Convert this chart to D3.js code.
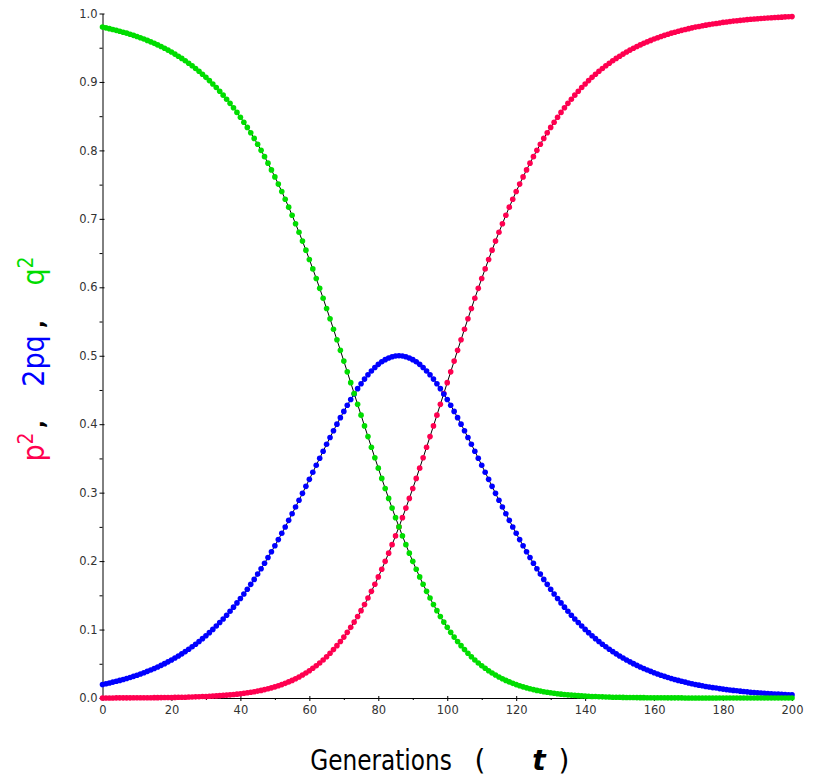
<!DOCTYPE html>
<html>
<head>
<meta charset="utf-8">
<script src="https://cdn.jsdelivr.net/npm/d3@7"></script>
<style>
  body { margin: 0; background: #fff; }
  svg { display: block; }
  .tick text { font-family: "DejaVu Sans", sans-serif; font-size: 11.5px; fill: #333; }
</style>
</head>
<body>
<svg id="drawing_region"></svg>
<script>
// generations 0..200
const generations = d3.range(0, 201);

// p^2 (red)
const p2Values = [
0.0001,0.0001,0.0001,0.0001,0.0002,0.0002,0.0002,0.0002,0.0002,0.0003,
0.0003,0.0003,0.0004,0.0004,0.0004,0.0005,0.0005,0.0006,0.0007,0.0007,
0.0008,0.0009,0.0010,0.0011,0.0012,0.0014,0.0015,0.0017,0.0019,0.0021,
0.0023,0.0025,0.0028,0.0031,0.0034,0.0038,0.0042,0.0046,0.0051,0.0056,
0.0062,0.0069,0.0076,0.0083,0.0092,0.0101,0.0111,0.0123,0.0135,0.0148,
0.0163,0.0178,0.0196,0.0214,0.0235,0.0257,0.0281,0.0307,0.0335,0.0365,
0.0398,0.0434,0.0472,0.0512,0.0556,0.0603,0.0654,0.0707,0.0765,0.0826,
0.0890,0.0959,0.1032,0.1109,0.1190,0.1276,0.1365,0.1460,0.1558,0.1661,
0.1769,0.1880,0.1996,0.2116,0.2240,0.2368,0.2500,0.2635,0.2774,0.2916,
0.3061,0.3208,0.3358,0.3510,0.3663,0.3819,0.3975,0.4132,0.4290,0.4449,
0.4607,0.4765,0.4922,0.5079,0.5234,0.5388,0.5540,0.5691,0.5839,0.5985,
0.6128,0.6269,0.6407,0.6543,0.6675,0.6804,0.6929,0.7052,0.7171,0.7286,
0.7399,0.7508,0.7613,0.7715,0.7814,0.7909,0.8001,0.8089,0.8175,0.8257,
0.8336,0.8412,0.8485,0.8555,0.8622,0.8687,0.8748,0.8807,0.8864,0.8918,
0.8970,0.9020,0.9067,0.9112,0.9156,0.9197,0.9236,0.9274,0.9310,0.9344,
0.9376,0.9407,0.9437,0.9465,0.9492,0.9517,0.9541,0.9564,0.9586,0.9607,
0.9627,0.9646,0.9664,0.9681,0.9697,0.9713,0.9727,0.9741,0.9754,0.9767,
0.9779,0.9790,0.9801,0.9811,0.9821,0.9830,0.9839,0.9847,0.9855,0.9862,
0.9870,0.9876,0.9883,0.9889,0.9894,0.9900,0.9905,0.9910,0.9915,0.9919,
0.9923,0.9927,0.9931,0.9935,0.9938,0.9941,0.9944,0.9947,0.9950,0.9952,
0.9955];

// 2pq (blue)
const twoPqValues = [
0.0198,0.0209,0.0220,0.0232,0.0244,0.0257,0.0271,0.0285,0.0300,0.0316,
0.0333,0.0351,0.0369,0.0389,0.0409,0.0431,0.0453,0.0477,0.0502,0.0528,
0.0555,0.0584,0.0614,0.0645,0.0678,0.0713,0.0749,0.0786,0.0826,0.0867,
0.0910,0.0955,0.1002,0.1051,0.1102,0.1155,0.1210,0.1267,0.1327,0.1389,
0.1453,0.1520,0.1589,0.1660,0.1733,0.1810,0.1888,0.1969,0.2052,0.2137,
0.2225,0.2314,0.2406,0.2499,0.2595,0.2691,0.2790,0.2890,0.2990,0.3092,
0.3194,0.3297,0.3400,0.3503,0.3605,0.3706,0.3806,0.3905,0.4001,0.4096,
0.4187,0.4276,0.4361,0.4442,0.4519,0.4592,0.4659,0.4722,0.4778,0.4829,
0.4874,0.4912,0.4943,0.4968,0.4986,0.4996,0.5000,0.4996,0.4986,0.4968,
0.4943,0.4912,0.4874,0.4829,0.4778,0.4722,0.4659,0.4592,0.4519,0.4442,
0.4361,0.4276,0.4187,0.4096,0.4001,0.3905,0.3806,0.3706,0.3605,0.3503,
0.3400,0.3297,0.3194,0.3092,0.2990,0.2890,0.2790,0.2691,0.2595,0.2499,
0.2406,0.2314,0.2225,0.2137,0.2052,0.1969,0.1888,0.1810,0.1733,0.1660,
0.1589,0.1520,0.1453,0.1389,0.1327,0.1267,0.1210,0.1155,0.1102,0.1051,
0.1002,0.0955,0.0910,0.0867,0.0826,0.0786,0.0749,0.0713,0.0678,0.0645,
0.0614,0.0584,0.0555,0.0528,0.0502,0.0477,0.0453,0.0431,0.0409,0.0389,
0.0369,0.0351,0.0333,0.0316,0.0300,0.0285,0.0271,0.0257,0.0244,0.0232,
0.0220,0.0209,0.0198,0.0188,0.0178,0.0169,0.0161,0.0152,0.0145,0.0137,
0.0130,0.0123,0.0117,0.0111,0.0105,0.0100,0.0095,0.0090,0.0085,0.0081,
0.0077,0.0073,0.0069,0.0065,0.0062,0.0059,0.0056,0.0053,0.0050,0.0048,
0.0045];

// q^2 (green)
const q2Values = [
0.9801,0.9790,0.9779,0.9767,0.9754,0.9741,0.9727,0.9713,0.9697,0.9681,
0.9664,0.9646,0.9627,0.9607,0.9586,0.9564,0.9541,0.9517,0.9492,0.9465,
0.9437,0.9407,0.9376,0.9344,0.9310,0.9274,0.9236,0.9197,0.9156,0.9112,
0.9067,0.9020,0.8970,0.8918,0.8864,0.8807,0.8748,0.8687,0.8622,0.8555,
0.8485,0.8412,0.8336,0.8257,0.8175,0.8089,0.8001,0.7909,0.7814,0.7715,
0.7613,0.7508,0.7399,0.7286,0.7171,0.7052,0.6929,0.6804,0.6675,0.6543,
0.6407,0.6269,0.6128,0.5985,0.5839,0.5691,0.5540,0.5388,0.5234,0.5079,
0.4922,0.4765,0.4607,0.4449,0.4290,0.4132,0.3975,0.3819,0.3663,0.3510,
0.3358,0.3208,0.3061,0.2916,0.2774,0.2635,0.2500,0.2368,0.2240,0.2116,
0.1996,0.1880,0.1769,0.1661,0.1558,0.1460,0.1365,0.1276,0.1190,0.1109,
0.1032,0.0959,0.0890,0.0826,0.0765,0.0707,0.0654,0.0603,0.0556,0.0512,
0.0472,0.0434,0.0398,0.0365,0.0335,0.0307,0.0281,0.0257,0.0235,0.0214,
0.0196,0.0178,0.0163,0.0148,0.0135,0.0123,0.0111,0.0101,0.0092,0.0083,
0.0076,0.0069,0.0062,0.0056,0.0051,0.0046,0.0042,0.0038,0.0034,0.0031,
0.0028,0.0025,0.0023,0.0021,0.0019,0.0017,0.0015,0.0014,0.0012,0.0011,
0.0010,0.0009,0.0008,0.0007,0.0007,0.0006,0.0005,0.0005,0.0004,0.0004,
0.0004,0.0003,0.0003,0.0003,0.0002,0.0002,0.0002,0.0002,0.0002,0.0001,
0.0001,0.0001,0.0001,0.0001,0.0001,0.0001,0.0001,0.0001,0.0001,0.0000,
0.0000,0.0000,0.0000,0.0000,0.0000,0.0000,0.0000,0.0000,0.0000,0.0000,
0.0000,0.0000,0.0000,0.0000,0.0000,0.0000,0.0000,0.0000,0.0000,0.0000,
0.0000];

const xMajorTicks = [0, 20, 40, 60, 80, 100, 120, 140, 160, 180, 200];
const xMinorTicks = [10, 30, 50, 70, 90, 110, 130, 150, 170, 190];
const yMajorTicks = [0.0, 0.1, 0.2, 0.3, 0.4, 0.5, 0.6, 0.7, 0.8, 0.9, 1.0];
const yMinorTicks = [0.05, 0.15, 0.25, 0.35, 0.45, 0.55, 0.65, 0.75, 0.85, 0.95];

const series = [
    { name: 'p2',  values: p2Values,    color: '#ff0050' },
    { name: '2pq', values: twoPqValues, color: '#0000ff' },
    { name: 'q2',  values: q2Values,    color: '#00dd00' }
];

const config = {
    width: 819,
    height: 777,
    margin: { top: 13.5, right: 27, bottom: 79, left: 102.5 }
};

const svg = d3.select('#drawing_region')
    .attr('width', config.width)
    .attr('height', config.height);

const inner_width = config.width - config.margin.left - config.margin.right;
const inner_height = config.height - config.margin.top - config.margin.bottom;

const chart = svg.append('g')
    .attr('transform', `translate(${config.margin.left}, ${config.margin.top})`);

const xscale = d3.scaleLinear().domain([0, 200]).range([0, inner_width]);
const yscale = d3.scaleLinear().domain([0, 1]).range([inner_height, 0]);

// axes
const xaxis_group = chart.append('g')
    .attr('transform', `translate(0, ${inner_height})`)
    .call(d3.axisBottom(xscale).tickValues(xMajorTicks).tickSize(3).tickSizeOuter(0).tickPadding(5));
chart.append('g')
    .attr('transform', `translate(0, ${inner_height})`)
    .call(d3.axisBottom(xscale).tickValues(xMinorTicks).tickSize(2).tickFormat('').tickSizeOuter(0))
    .select('.domain').remove();

const yaxis_group = chart.append('g')
    .call(d3.axisLeft(yscale).tickValues(yMajorTicks).tickFormat(d3.format('.1f')).tickSize(3).tickSizeOuter(0).tickPadding(2));
chart.append('g')
    .call(d3.axisLeft(yscale).tickValues(yMinorTicks).tickSize(3).tickFormat('').tickSizeOuter(0))
    .select('.domain').remove();

chart.selectAll('.tick line').attr('stroke', '#000');
chart.selectAll('.domain').attr('stroke', '#000');
// ticks cross the axis line
yaxis_group.selectAll('.tick line').attr('x1', 2);
xaxis_group.selectAll('.tick line').attr('y1', -2);

// curves: thin black line under the dots
const line = d3.line()
    .x((d, i) => xscale(generations[i]))
    .y(d => yscale(d));

series.forEach(s => {
    chart.append('path')
        .datum(s.values)
        .attr('fill', 'none')
        .attr('stroke', '#000')
        .attr('stroke-width', 1)
        .attr('d', line);
});

series.forEach(s => {
    chart.append('g')
        .selectAll('circle')
        .data(s.values)
        .enter()
        .append('circle')
        .attr('cx', (d, i) => xscale(generations[i]))
        .attr('cy', d => yscale(d))
        .attr('r', 2.8)
        .attr('fill', s.color);
});

// x label
const xlab = svg.append('g')
    .attr('font-family', '"DejaVu Sans", sans-serif')
    .attr('font-size', 28)
    .attr('fill', '#000');
xlab.append('text')
    .attr('transform', 'translate(381, 770) scale(0.83, 1)')
    .attr('text-anchor', 'middle')
    .text('Generations');
xlab.append('text').attr('x', 480).attr('y', 770).attr('text-anchor', 'middle').text('(');
xlab.append('text').attr('x', 539).attr('y', 770).attr('text-anchor', 'middle')
    .attr('font-weight', 'bold').attr('font-style', 'italic').text('t');
xlab.append('text').attr('x', 564).attr('y', 770).attr('text-anchor', 'middle').text(')');

// y label (rotated, coloured pieces)
const ylab = svg.append('g')
    .attr('font-family', '"DejaVu Sans", sans-serif')
    .attr('font-size', 30);

function ypiece(cy, main, sup, color) {
    const t = ylab.append('text')
        .attr('transform', `translate(44, ${cy}) rotate(-90) scale(0.9, 1)`)
        .attr('text-anchor', 'middle')
        .attr('fill', color);
    t.append('tspan').text(main);
    if (sup) {
        t.append('tspan').attr('font-size', 21).attr('dy', -11).text(sup);
    }
}
ypiece(447, 'p', '2', '#ff0050');
ypiece(361, '2pq', null, '#0000ff');
ypiece(271, 'q', '2', '#00dd00');
ylab.append('text').attr('transform', 'translate(44, 424) rotate(-90)')
    .attr('text-anchor', 'middle').attr('font-size', 22).attr('font-weight', 'bold').attr('fill', '#000').text(',');
ylab.append('text').attr('transform', 'translate(44, 324) rotate(-90)')
    .attr('text-anchor', 'middle').attr('font-size', 22).attr('font-weight', 'bold').attr('fill', '#000').text(',');
</script>
</body>
</html>
